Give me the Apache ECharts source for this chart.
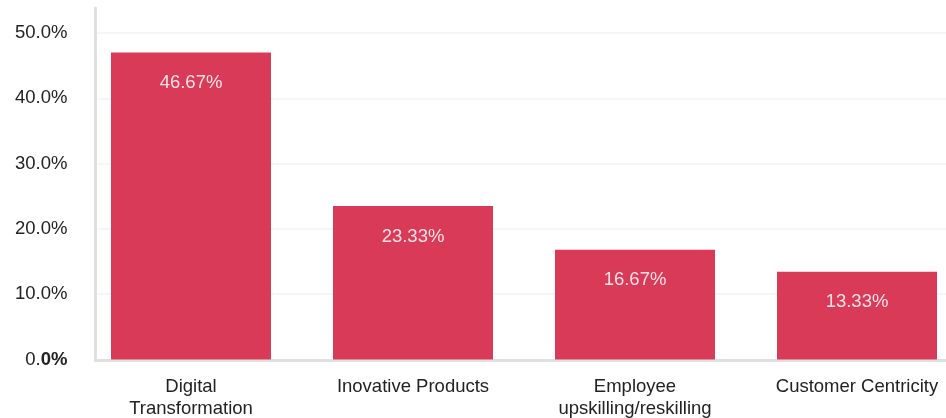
<!DOCTYPE html>
<html>
<head>
<meta charset="utf-8">
<style>
  html, body { margin: 0; padding: 0; background: #ffffff; }
  #chart { width: 946px; height: 418px; }
</style>
<script src="https://cdn.jsdelivr.net/npm/echarts@6/dist/echarts.min.js"></script>
</head>
<body>
<div id="chart"></div>
<script>
// Share of responses per focus area (percent)
const categories = ['Digital\nTransformation', 'Inovative Products', 'Employee\nupskilling/reskilling', 'Customer Centricity'];
const shares = [46.67, 23.33, 16.67, 13.33];
// Value axis range and step
const axisMin = 0;
const axisMax = 50;
const axisStep = 10;

const FONT = '"Liberation Sans", Arial, Helvetica, sans-serif';
const TEXT = '#222222';
const BAR = '#d93a57';
const FRAME = '#e0e0e0';

const chart = echarts.init(document.getElementById('chart'), null, { renderer: 'canvas' });

chart.setOption({
  animation: false,
  backgroundColor: '#ffffff',
  textStyle: { fontFamily: FONT },
  grid: [
    // 0: frame (axis lines)
    { left: 95.5, right: 0, top: 8, bottom: 57.3, containLabel: false, outerBoundsMode: 'none' },
    // 1: value labels and split lines
    { left: 95.5, right: 0, top: 33, bottom: 58.5, containLabel: false, outerBoundsMode: 'none' },
    // 2: bars and category labels (bands run slightly past the right edge)
    { left: 80, width: 888, top: 30.5, bottom: 58.5, containLabel: false, outerBoundsMode: 'none' }
  ],
  xAxis: [
    {
      gridIndex: 0, type: 'value', min: 0, max: 1,
      axisLine: { show: true, lineStyle: { color: FRAME, width: 3 } },
      axisTick: { show: false }, axisLabel: { show: false }, splitLine: { show: false }
    },
    { gridIndex: 1, type: 'value', min: 0, max: 1, show: false },
    {
      gridIndex: 2, type: 'category', data: categories,
      axisLine: { show: false }, axisTick: { show: false },
      axisLabel: {
        interval: 0, margin: 16, color: TEXT, fontSize: 18.5,
        fontFamily: FONT, lineHeight: 22, align: 'center', hideOverlap: false
      },
      splitLine: { show: false }
    }
  ],
  yAxis: [
    {
      gridIndex: 0, type: 'value', min: 0, max: 1,
      axisLine: { show: true, lineStyle: { color: FRAME, width: 3 } },
      axisTick: { show: false }, axisLabel: { show: false }, splitLine: { show: false }
    },
    {
      gridIndex: 1, type: 'value', min: axisMin, max: axisMax, interval: axisStep,
      axisLine: { show: false }, axisTick: { show: false },
      axisLabel: {
        margin: 28, color: TEXT, fontSize: 18.5, fontFamily: FONT,
        formatter: v => v === 0 ? '0.{b|0%}' : v.toFixed(1) + '%',
        rich: { b: { fontWeight: 'bold', fontSize: 18.5, color: TEXT, fontFamily: FONT } }
      },
      splitLine: { show: true, lineStyle: { color: '#f6f6f6', width: 2 } }
    },
    { gridIndex: 2, type: 'value', min: axisMin, max: axisMax, show: false }
  ],
  series: [
    {
      type: 'bar',
      xAxisIndex: 2, yAxisIndex: 2,
      data: shares,
      barWidth: 160,
      z: 5,
      itemStyle: { color: BAR },
      label: {
        show: true, position: 'insideTop', distance: 21,
        formatter: '{c}%', color: 'rgba(255,255,255,0.85)',
        fontSize: 18.5, fontFamily: FONT
      },
      emphasis: { disabled: true }
    }
  ]
});
</script>
</body>
</html>
